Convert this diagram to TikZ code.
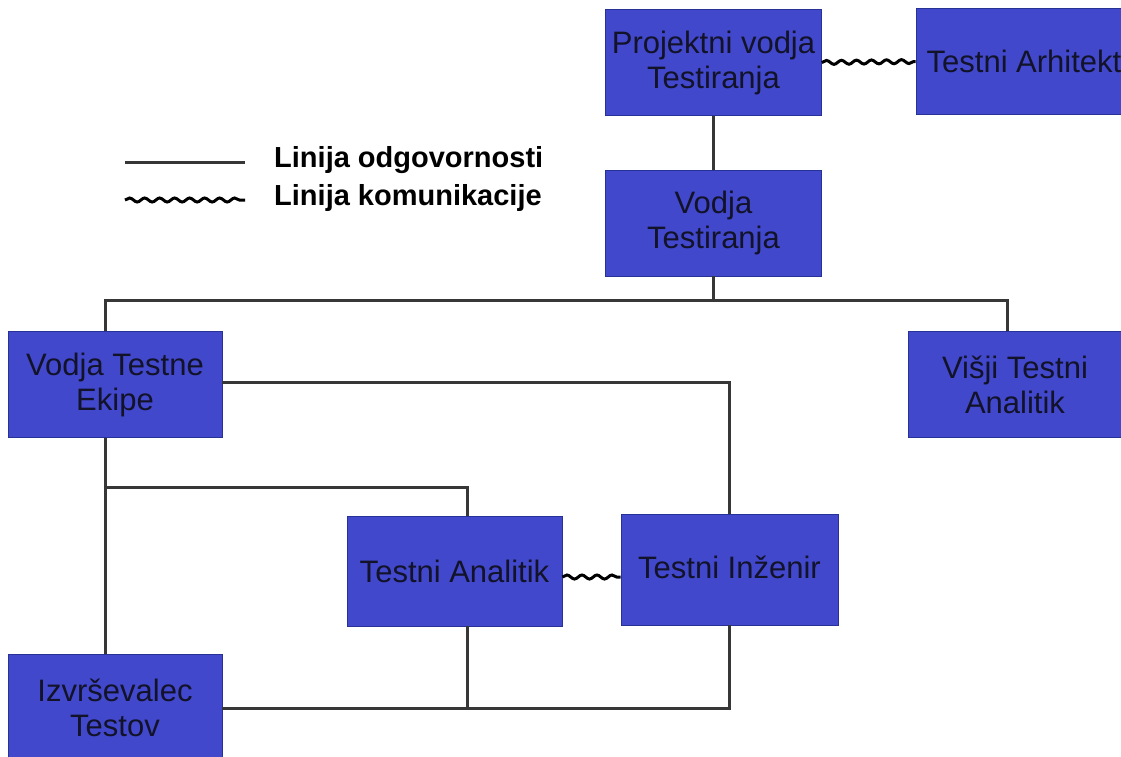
\documentclass[tikz,border=0pt]{standalone}
\usepackage{fontspec}
\setmainfont{Liberation Sans}
\usetikzlibrary{decorations.pathmorphing}
\definecolor{boxblue}{RGB}{65,72,204}
\definecolor{boxedge}{RGB}{40,50,150}
\definecolor{linegrey}{RGB}{55,55,55}
\definecolor{txt}{RGB}{18,18,40}
\begin{document}
\begin{tikzpicture}[x=1pt,y=-1pt,
  role/.style={rectangle,fill=boxblue,draw=boxedge,line width=0.6pt,
    minimum width=216pt,minimum height=106pt,inner sep=0pt,align=center,
    text=txt,font=\fontsize{31}{35}\selectfont},
  resp/.style={draw=linegrey,line width=3pt},
  comm/.style={draw=black,line width=3pt,decorate,
    decoration={snake,segment length=15pt,amplitude=2pt}},
  legendtext/.style={anchor=west,inner sep=0pt,text=black,
    font=\bfseries\fontsize{29}{32}\selectfont}
]
\useasboundingbox (0,0) rectangle (1121,756);

% role boxes
\node[role] (pv) at (713.5,62.5) {Projektni vodja\\Testiranja};
\node[role] (ar) at (1024,61.5) {Testni Arhitekt};
\node[role] (vt) at (713.5,223) {Vodja\\Testiranja};
\node[role,minimum width=214pt] (vte) at (115,384.5) {Vodja Testne\\Ekipe};
\node[role,minimum width=214pt] (vs) at (1015,384.5) {Višji Testni\\Analitik};
\node[role,minimum width=215pt,minimum height=110pt] (ta) at (454.5,571) {Testni Analitik};
\node[role,minimum width=217pt,minimum height=111pt] (ti) at (729.5,569.5) {\raisebox{4pt}{Testni Inženir}};
\node[role,minimum width=214pt] (iz) at (115,707.5) {Izvrševalec\\Testov};

% junction points of the responsibility lines
\coordinate (cL) at (105,300);
\coordinate (cR) at (1007,300);
\coordinate (cB) at (105,487);
\coordinate (cA) at (467,0);
\coordinate (cD) at (0,708);
\coordinate (cW) at (0,577);

% lines of responsibility
\draw[resp] (pv.south) -- (vt.north);
\draw[resp] (vt.south) |- (cL) -- (cL |- vte.north);
\draw[resp] (vt.south) |- (cR) -- (cR |- vs.north);
\draw[resp] (vte.east |- 0,382) -| (ti.north);
\draw[resp] (cL |- vte.south) -- (cL |- iz.north);
\draw[resp] (cB) -| (cA |- ta.north);
\draw[resp] (iz.east |- cD) -| (ti.south);
\draw[resp] (cA |- ta.south) -- (cA |- cD);

% lines of communication
\draw[comm] (pv.east) -- (ar.west);
\draw[comm] (ta.east |- cW) -- (ti.west |- cW);

% legend
\coordinate (l1a) at (125,162);
\coordinate (l1b) at (245,162);
\coordinate (l2a) at (125,200);
\coordinate (l2b) at (245,200);
\draw[resp] (l1a) -- (l1b);
\draw[comm] (l2a) -- (l2b);
\node[legendtext] (lt1) at (274,160) {Linija odgovornosti};
\node[legendtext] (lt2) at (274,198) {Linija komunikacije};
\end{tikzpicture}
\end{document}
